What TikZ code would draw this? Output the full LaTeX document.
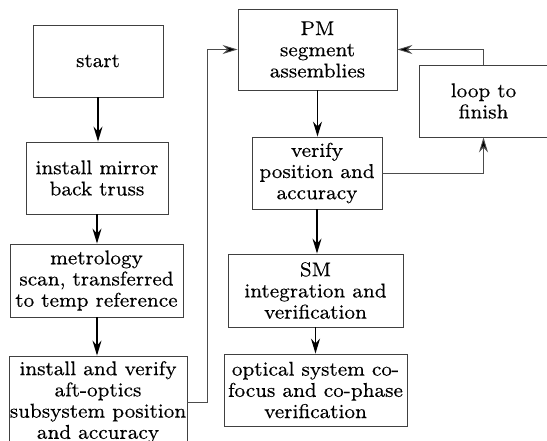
\documentclass[tikz,border=0pt]{standalone}
\usepackage{fontspec}
\setmainfont{lmroman8-regular.otf}[FakeBold=0.2]
\usetikzlibrary{arrows.meta}
\begin{document}
\begin{tikzpicture}[x=1pt,y=-1pt,
  box/.style={draw=black!75, line width=0.9pt, align=center, inner sep=0pt,
    font=\fontsize{20}{21.2}\selectfont, text=black},
  arr/.style={line width=1.3pt, -{Stealth[length=15pt,width=9pt,inset=5pt]}},
  link/.style={line width=0.9pt, draw=black!70, -{Stealth[length=15pt,width=9pt,inset=5pt,fill=black]}}]
\useasboundingbox (0,0) rectangle (547,440);
\clip (0,0) rectangle (547,440);
\node[box, minimum width=130pt, minimum height=72pt] (start) at (98,61) {start};
\node[box, minimum width=142pt, minimum height=72pt] (inst) at (97,178) {install mirror\\back truss};
\node[box, minimum width=173pt, minimum height=73pt] (met) at (96.5,280.5) {metrology\\scan, transferred\\to temp reference};
\node[box, minimum width=178pt, minimum height=92pt] (iv) at (98,402) {install and verify\\aft-optics\\subsystem position\\and accuracy};
\node[box, minimum width=159pt, minimum height=81pt] (pm) at (317.5,49.5) {PM\\segment\\assemblies};
\node[box, minimum width=130pt, minimum height=72pt] (ver) at (317,173) {verify\\position and\\accuracy};
\node[box, minimum width=129pt, minimum height=72pt] (loop) at (483.5,101) {loop to\\finish};
\node[box, minimum width=175pt, minimum height=73pt] (sm) at (315.5,290.5) {SM\\integration and\\verification};
\node[box, minimum width=183pt, minimum height=72pt] (opt) at (315.5,390) {optical system co-\\focus and co-phase\\verification};
\draw[arr] (start.south) -- (start.south |- inst.north);
\draw[arr] (inst.south) -- (inst.south |- met.north);
\draw[arr] (inst.south |- met.south) -- (inst.south |- iv.north);
\draw[link] (iv.east) -- ++(20,0) |- (pm.west);
\draw[arr] (pm.south) -- (pm.south |- ver.north);
\draw[arr] (ver.south) -- (ver.south |- sm.north);
\draw[arr] (sm.south) -- (sm.south |- opt.north);
\draw[link] (ver.east) -| (loop.south);
\draw[link] (loop.north) |- (pm.east);
\end{tikzpicture}
\end{document}
